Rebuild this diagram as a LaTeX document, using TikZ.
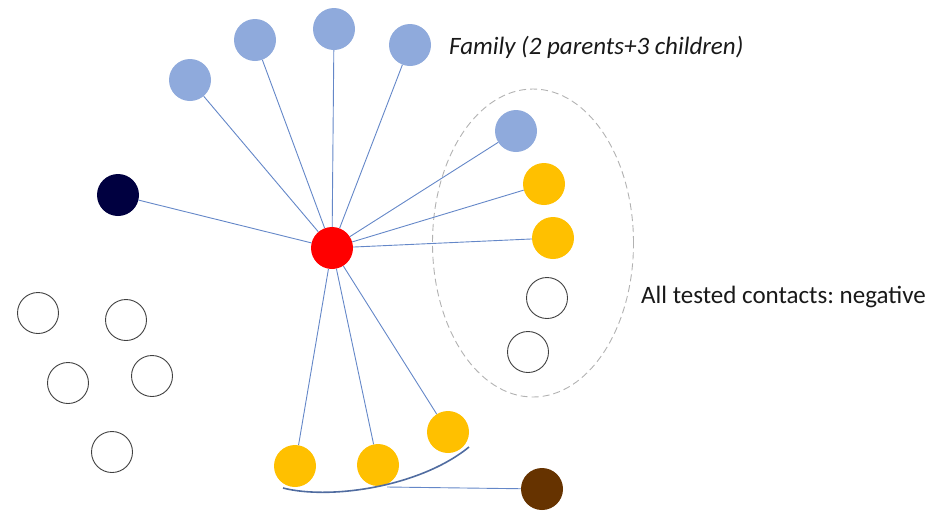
\documentclass[tikz,border=0pt]{standalone}
\usepackage{fontspec}
\setmainfont{Carlito}
\usetikzlibrary{shapes.geometric}
\frenchspacing
\begin{document}
\begin{tikzpicture}[x=1pt,y=-1pt,
  dot/.style={circle,minimum size=42pt,inner sep=0pt},
  fam/.style={dot,fill=famblue},
  posdot/.style={dot,fill=posyellow},
  negdot/.style={dot,draw=black!75,line width=0.9pt,minimum size=41pt},
  link/.style={draw=linkblue,line width=0.9pt},
  lbl/.style={font=\fontsize{25}{28}\selectfont,text=black!90,inner sep=0pt,anchor=west}]
\definecolor{famblue}{RGB}{143,170,220}
\definecolor{posyellow}{RGB}{255,192,0}
\definecolor{linkblue}{RGB}{100,135,200}
\definecolor{navy}{RGB}{0,0,64}
\definecolor{brownc}{RGB}{102,51,0}
\useasboundingbox (0,0) rectangle (933,515);
% dashed ellipse
\node[draw=gray!60,dash pattern=on 7pt off 4pt,line width=0.9pt,ellipse,minimum width=201pt,minimum height=308pt,inner sep=0pt] (grp) at (533,243) {};
% nodes
\node[dot,fill=red] (c) at (332,248) {};
\node[fam] (f1) at (190,80) {};
\node[fam] (f2) at (255,40) {};
\node[fam] (f3) at (334,29) {};
\node[fam] (f4) at (410,45) {};
\node[dot,fill=navy] (nv) at (118,195) {};
\node[fam] (r1) at (516,131) {};
\node[posdot] (r2) at (544,184) {};
\node[posdot] (r3) at (553,238) {};
\node[negdot] (r4) at (547,298) {};
\node[negdot] (r5) at (528,352) {};
\node[negdot] (w1) at (38,313) {};
\node[negdot] (w2) at (126,320) {};
\node[negdot] (w3) at (68,383) {};
\node[negdot] (w4) at (152,376) {};
\node[negdot] (w5) at (112,452) {};
\node[posdot] (b1) at (295,466) {};
\node[posdot] (b2) at (378,465) {};
\node[posdot] (b3) at (448,432) {};
\node[dot,fill=brownc] (br) at (542,489) {};
% links
\foreach \n in {f1,f2,f3,f4,nv,r1,r2,r3,b1,b2,b3}
  \draw[link] (c) -- (\n);
% arc under bottom nodes
\coordinate (a0) at (283,488);
\coordinate (a1) at (469,447);
\coordinate (am) at (387,487);
\draw[draw=linkblue!80!black,line width=1.6pt] (a0) .. controls (330,500) and (420,487) .. (a1);
\draw[link] (am) -- (br);
% labels
\node[lbl,font=\fontsize{25}{28}\selectfont\itshape] (t1) at (449,47) {Family (2 parents+3 children)};
\node[lbl] (t2) at (641,297) {All tested contacts: negative};
\end{tikzpicture}
\end{document}
